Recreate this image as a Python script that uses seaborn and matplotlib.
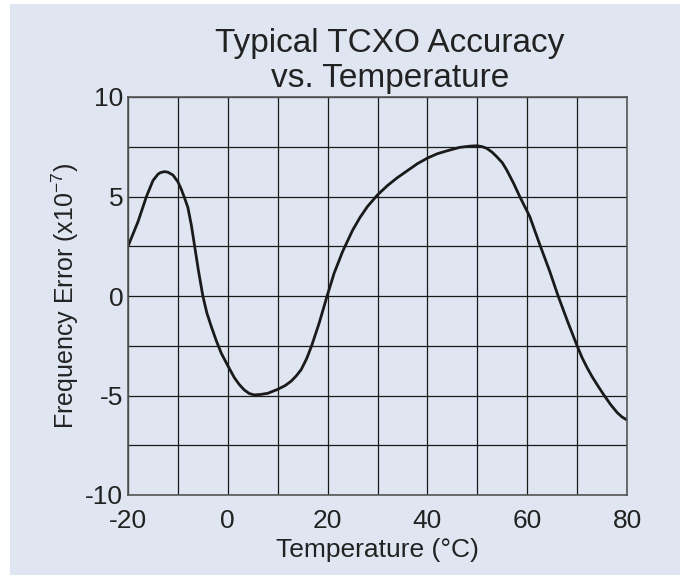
import numpy as np
import pandas as pd
import matplotlib.pyplot as plt
import seaborn as sns
from matplotlib.patches import Rectangle
from matplotlib.ticker import MultipleLocator


# Curve (temperature in C, error in 1e-7)
temp = [-20, -18, -16.3, -15, -14, -13.5, -12.7, -12, -11, -10, -9.3, -8.7, -8, -7.3, -6.8, -5.9, -5,
        -4.2, -3.3, -2.3, -1.3, 0, 1.3, 2.3, 3.3, 4.3, 5.3, 6.5, 8, 10, 11.5, 12.7, 13.7, 14.7, 15.8,
        16.8, 18.3, 19.9, 21.3, 23, 25, 26.5, 28, 30, 32, 34, 36, 38, 40, 42, 44, 46.5, 48.5,
        50, 51, 51.9, 53, 53.9, 55, 55.9, 57.3, 58.5, 60.5, 62.5, 64.5, 66.2, 68.2, 70, 71,
        72, 73, 74, 75.3, 76.7, 78, 79, 80]
error = [2.5, 3.73, 5.0, 5.8, 6.12, 6.2, 6.25, 6.22, 6.08, 5.74, 5.35, 4.95, 4.45, 3.55, 2.75, 1.3, 0.0,
         -0.85, -1.54, -2.25, -2.88, -3.5, -4.1, -4.45, -4.72, -4.9, -4.97, -4.95, -4.89, -4.69, -4.5, -4.28, -4.02, -3.7, -3.15,
         -2.5, -1.37, 0.0, 1.14, 2.23, 3.3, 3.95, 4.5, 5.08, 5.55, 5.95, 6.3, 6.65, 6.93, 7.15, 7.3, 7.47, 7.53,
         7.55, 7.5, 7.42, 7.22, 7.0, 6.7, 6.33, 5.65, 5.0, 4.0, 2.6, 1.25, 0.0, -1.35, -2.5, -3.1,
         -3.6, -4.05, -4.45, -4.95, -5.45, -5.85, -6.08, -6.23]
x_ticks = [-20, 0, 20, 40, 60, 80]
y_ticks = [-10, -5, 0, 5, 10]

df = pd.DataFrame({'temp': temp, 'error': error})

bg = '#dfe6f1'
sns.set_style('white')
plt.rcParams['font.family'] = ['Liberation Sans', 'DejaVu Sans']
plt.rcParams['axes.unicode_minus'] = False  # plain hyphens like the source

fig = plt.figure(figsize=(6.8, 5.75), dpi=100, facecolor='white')
# light blue panel (small white strip on left/top like the source)
fig.patches.append(Rectangle((10 / 680, 0), 1 - 10 / 680, 1 - 4 / 575,
                             transform=fig.transFigure, facecolor=bg, edgecolor='none', zorder=-10))

ax = fig.add_axes([128 / 680, 1 - 495 / 575, 499 / 680, 398 / 575])
ax.set_facecolor(bg)

sns.lineplot(data=df, x='temp', y='error', color='#1a1a1a', linewidth=2.0, ax=ax, sort=False)

ax.set_xlim(-20, 80)
ax.set_ylim(-10, 10)
ax.set_xticks(x_ticks)
ax.set_yticks(y_ticks)
ax.xaxis.set_minor_locator(MultipleLocator(10))
ax.yaxis.set_minor_locator(MultipleLocator(2.5))
ax.grid(True, which='both', color='#1a1a1a', linewidth=0.9)
ax.tick_params(which='both', length=0, labelsize=19, colors='#222222')
ax.tick_params(axis='x', pad=10)
ax.tick_params(axis='y', pad=3.5)

for s in ax.spines.values():
    s.set_color('#555555')
    s.set_linewidth(1.2)

ax.set_xlabel('Temperature (°C)', fontsize=19, color='#222222', labelpad=4)
ax.set_ylabel(r'Frequency Error (x10$^{\mathregular{-7}}$)', fontsize=18, color='#222222', labelpad=3)

fig.text(390 / 680, 1 - 61 / 575, 'Typical TCXO Accuracy\nvs. Temperature', ha='center', va='center',
         fontsize=24, color='#222222', linespacing=1.17)

plt.savefig('out.png', dpi=100, facecolor=fig.get_facecolor())
